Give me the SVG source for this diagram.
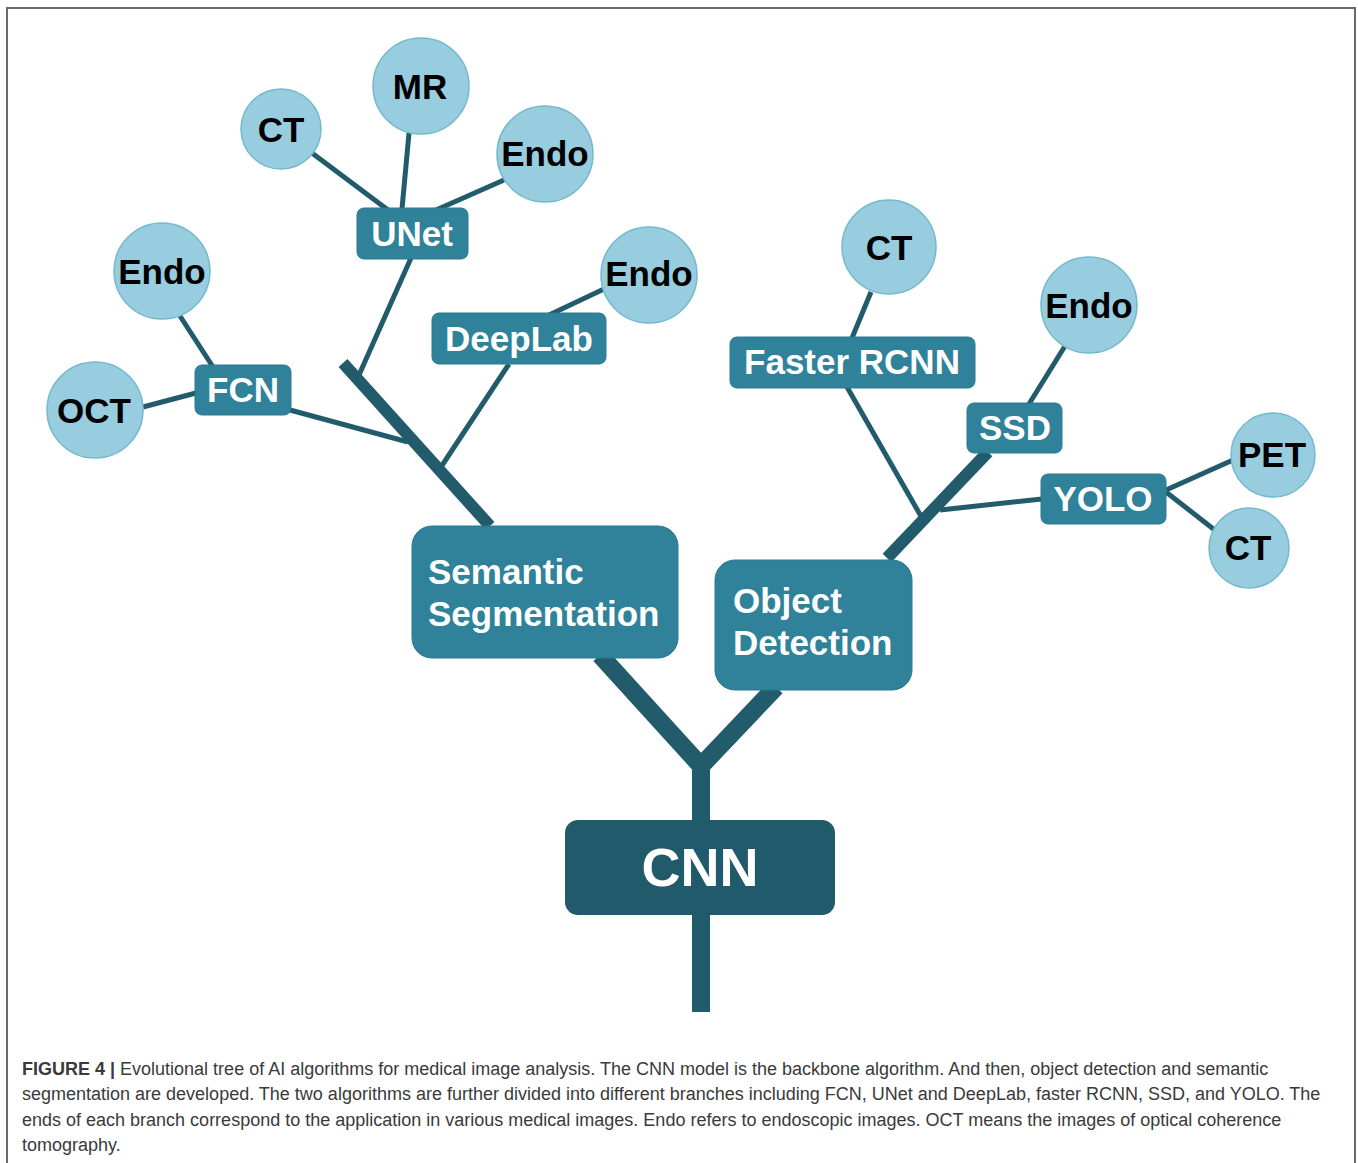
<svg xmlns="http://www.w3.org/2000/svg" width="1358" height="1163" viewBox="0 0 1358 1163">
<style>
.ln{stroke:#225B6B;fill:none;stroke-linecap:butt}
.t{stroke-width:5}
.k{stroke-width:12}
.f{stroke-width:18}
.c{fill:#97CDDE;stroke:#74B9CD;stroke-width:1.5}
.ct{font-family:"Liberation Sans",Arial,sans-serif;font-weight:bold;font-size:35px;fill:#000;text-anchor:middle}
.b{fill:#2F8299;stroke:#2A7890;stroke-width:1}
.bt{font-family:"Liberation Sans",Arial,sans-serif;font-weight:bold;font-size:35px;fill:#fff;text-anchor:middle}
.big{font-family:"Liberation Sans",Arial,sans-serif;font-weight:bold;font-size:35px;fill:#fff}
.cap{font-family:"Liberation Sans",Arial,sans-serif;font-size:18px;fill:#3a3a3a}
</style>
<rect width="1358" height="1163" fill="#fff"/>
<path d="M7,1163 V8 H1355 V1163" fill="none" stroke="#6a6a6a" stroke-width="2"/>

<g id="connectors">
  <path class="ln f" d="M701,1012 V760"/>
  <path class="ln f" d="M600,655 L701,766 L776,687" stroke-linejoin="miter"/>
  <path class="ln k" d="M343,363 L490,526"/>
  <path class="ln t" d="M359,375 L411,258"/>
  <path class="ln t" d="M290,410 L408,442"/>
  <path class="ln t" d="M441,467 L509,364"/>
  <path class="ln t" d="M143,407 L196,393"/>
  <path class="ln t" d="M180,316 L213,367"/>
  <path class="ln t" d="M308,150 L388,210"/>
  <path class="ln t" d="M409,133 L402,209"/>
  <path class="ln t" d="M504,180 L436,210"/>
  <path class="ln t" d="M604,289 L549,315"/>
  <path class="ln k" d="M887,558 L988,452"/>
  <path class="ln t" d="M847,387 L922,518"/>
  <path class="ln t" d="M940,510 L1042,499"/>
  <path class="ln t" d="M871,292 L852,338"/>
  <path class="ln t" d="M1065,346 L1029,404"/>
  <path class="ln t" d="M1166,490 L1233,460"/>
  <path class="ln t" d="M1166,492 L1216,531"/>
</g>

<g id="n-cnn">
  <rect x="565" y="820" width="270" height="95" rx="13" fill="#215A6A"/>
  <text x="700" y="886" font-family="'Liberation Sans',Arial,sans-serif" font-weight="bold" font-size="54" fill="#fff" text-anchor="middle">CNN</text>
</g>
<g id="n-semseg">
  <rect class="b" x="412" y="526" width="266" height="132" rx="20"/>
  <text class="big" x="428" y="584">Semantic</text>
  <text class="big" x="428" y="626">Segmentation</text>
</g>
<g id="n-objdet">
  <rect class="b" x="715" y="560" width="197" height="130" rx="20"/>
  <text class="big" x="733" y="613">Object</text>
  <text class="big" x="733" y="655">Detection</text>
</g>

<g id="n-fcn"><rect class="b" x="195" y="365" width="96" height="50" rx="7"/><text class="bt" x="243" y="402">FCN</text></g>
<g id="n-unet"><rect class="b" x="357" y="208" width="111" height="51" rx="7"/><text class="bt" x="412" y="246">UNet</text></g>
<g id="n-deeplab"><rect class="b" x="432" y="313" width="174" height="51" rx="7"/><text class="bt" x="519" y="351">DeepLab</text></g>
<g id="n-frcnn"><rect class="b" x="730" y="337" width="245" height="51" rx="7"/><text class="bt" x="852" y="374">Faster RCNN</text></g>
<g id="n-ssd"><rect class="b" x="967" y="403" width="95" height="50" rx="7"/><text class="bt" x="1015" y="440">SSD</text></g>
<g id="n-yolo"><rect class="b" x="1041" y="474" width="125" height="50" rx="7"/><text class="bt" x="1103" y="511">YOLO</text></g>

<g id="n-oct"><circle class="c" cx="95" cy="410" r="48"/><text class="ct" x="94" y="423">OCT</text></g>
<g id="n-endo-fcn"><circle class="c" cx="162" cy="271" r="48"/><text class="ct" x="162" y="284">Endo</text></g>
<g id="n-ct-unet"><circle class="c" cx="281" cy="129" r="40"/><text class="ct" x="281" y="142">CT</text></g>
<g id="n-mr"><circle class="c" cx="421" cy="86" r="48"/><text class="ct" x="420" y="99">MR</text></g>
<g id="n-endo-unet"><circle class="c" cx="545" cy="154" r="48"/><text class="ct" x="545" y="166">Endo</text></g>
<g id="n-endo-deeplab"><circle class="c" cx="649" cy="275" r="48"/><text class="ct" x="649" y="286">Endo</text></g>
<g id="n-ct-frcnn"><circle class="c" cx="889" cy="247" r="47"/><text class="ct" x="889" y="260">CT</text></g>
<g id="n-endo-ssd"><circle class="c" cx="1089" cy="305" r="48"/><text class="ct" x="1089" y="318">Endo</text></g>
<g id="n-pet"><circle class="c" cx="1273" cy="455" r="42"/><text class="ct" x="1272" y="467">PET</text></g>
<g id="n-ct-yolo"><circle class="c" cx="1249" cy="548" r="40"/><text class="ct" x="1248" y="560">CT</text></g>

<g id="caption">
  <text class="cap" x="22" y="1075"><tspan font-weight="bold">FIGURE 4 |</tspan> Evolutional tree of AI algorithms for medical image analysis. The CNN model is the backbone algorithm. And then, object detection and semantic</text>
  <text class="cap" x="22" y="1100">segmentation are developed. The two algorithms are further divided into different branches including FCN, UNet and DeepLab, faster RCNN, SSD, and YOLO. The</text>
  <text class="cap" x="22" y="1126">ends of each branch correspond to the application in various medical images. Endo refers to endoscopic images. OCT means the images of optical coherence</text>
  <text class="cap" x="22" y="1151">tomography.</text>
</g>
</svg>
